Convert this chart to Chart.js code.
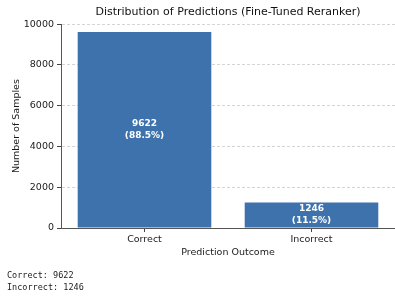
<!DOCTYPE html>
<html>
<head>
<meta charset="utf-8">
<script src="https://cdn.jsdelivr.net/npm/chart.js@4/dist/chart.umd.min.js"></script>
<style>
  html, body { margin: 0; padding: 0; background: #fff; }
  #wrap { width: 395px; height: 296px; position: relative; }
</style>
</head>
<body>
<div id="wrap"><canvas id="chart" width="395" height="296"></canvas></div>
<script>
// valores
var categorias = ['Correct', 'Incorrect'];
var muestras = [9622, 1246];
var ticksY = [0, 2000, 4000, 6000, 8000, 10000];
var lineasTexto = ['Correct: 9622', 'Incorrect: 1246'];

var total = muestras.reduce(function(a, b) { return a + b; }, 0);

// etiquetas blancas dentro de cada barra
var etiquetasBarras = {
    id: 'etiquetasBarras',
    afterDatasetsDraw: function(chart) {
        var ctx = chart.ctx;
        var meta = chart.getDatasetMeta(0);
        ctx.save();
        ctx.fillStyle = '#ffffff';
        ctx.font = 'bold 9px "DejaVu Sans"';
        ctx.textAlign = 'center';
        ctx.textBaseline = 'middle';
        meta.data.forEach(function(bar, i) {
            var v = muestras[i];
            var mid = (bar.y + bar.base) / 2;
            ctx.fillText(String(v), bar.x, mid - 6);
            ctx.fillText('(' + (v / total * 100).toFixed(1) + '%)', bar.x, mid + 6);
        });
        ctx.restore();
    }
};

// texto impreso debajo del grafico
var textoInferior = {
    id: 'textoInferior',
    afterDraw: function(chart) {
        var ctx = chart.ctx;
        ctx.save();
        ctx.fillStyle = '#222';
        ctx.font = '8.5px "DejaVu Sans Mono"';
        ctx.textAlign = 'left';
        ctx.textBaseline = 'middle';
        lineasTexto.forEach(function(t, i) {
            ctx.fillText(t, 7, 276 + i * 12);
        });
        ctx.restore();
    }
};

var chart = new Chart(document.getElementById('chart'), {
    type: 'bar',
    data: {
        labels: categorias,
        datasets: [{
            data: muestras,
            backgroundColor: '#3d72ad',
            borderWidth: 0,
            barPercentage: 0.8,
            categoryPercentage: 1.0
        }]
    },
    options: {
        responsive: false,
        animation: false,
        layout: { padding: { top: 0, right: 0, bottom: 0, left: 0 } },
        plugins: {
            legend: { display: false },
            tooltip: { enabled: false },
            title: {
                display: true,
                fullSize: false,
                text: 'Distribution of Predictions (Fine-Tuned Reranker)',
                color: '#111',
                font: { family: 'DejaVu Sans', size: 11, weight: 'normal' },
                padding: { top: 6, bottom: 5 }
            }
        },
        scales: {
            x: {
                afterFit: function(s) { s.height = 68; },
                grid: { display: true, offset: false, drawOnChartArea: false, tickLength: 4, color: '#444' },
                border: { display: true, color: '#555', width: 1 },
                ticks: { color: '#1a1a1a', padding: 2, font: { family: 'DejaVu Sans', size: 9.5 } },
                title: {
                    display: true,
                    text: 'Prediction Outcome',
                    color: '#1a1a1a',
                    font: { family: 'DejaVu Sans', size: 9.5 },
                    padding: { top: 0, bottom: 38 }
                }
            },
            y: {
                min: 0,
                max: 10000,
                afterFit: function(s) { s.width = 61; },
                afterBuildTicks: function(s) {
                    s.ticks = ticksY.map(function(v) { return { value: v }; });
                },
                grid: { color: '#d4d4d4', tickLength: 4, tickColor: '#444', tickBorderDash: [] },
                border: { display: true, color: '#555', width: 1, dash: [3, 2] },
                ticks: {
                    color: '#1a1a1a',
                    padding: 3,
                    font: { family: 'DejaVu Sans', size: 9.5 },
                    callback: function(v) { return String(v); }
                },
                title: {
                    display: true,
                    text: 'Number of Samples',
                    color: '#1a1a1a',
                    font: { family: 'DejaVu Sans', size: 9.5 },
                    padding: { top: 11, bottom: 0 }
                }
            }
        }
    },
    plugins: [etiquetasBarras, textoInferior]
});
</script>
</body>
</html>
